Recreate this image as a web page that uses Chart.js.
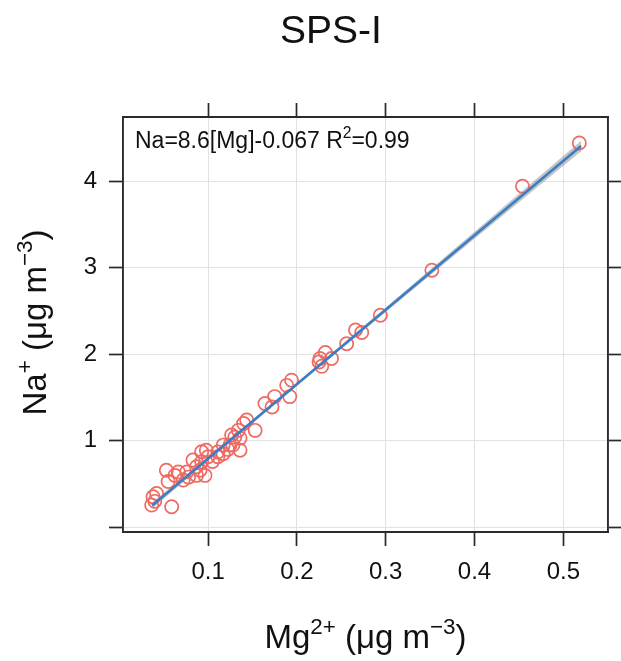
<!DOCTYPE html>
<html>
<head>
<meta charset="utf-8">
<script src="https://cdn.jsdelivr.net/npm/chart.js@4.4.1/dist/chart.umd.min.js"></script>
<style>
html,body{margin:0;padding:0;background:#fff;}
#wrap{width:621px;height:661px;position:relative;}
</style>
</head>
<body>
<div id="wrap"><canvas id="c" width="621" height="661"></canvas></div>
<script>
// ---- data ----
const mgValues = [0.518,0.454,0.352,0.294,0.273,0.266,0.256,0.239,0.232,0.226,0.228,0.225,
  0.194,0.1885,0.192,0.175,0.172,0.164,0.153,0.1435,0.140,0.134,0.1265,0.130,0.136,0.136,
  0.1247,0.117,0.111,0.122,0.117,0.111,0.100,0.098,0.0928,0.091,0.087,0.083,0.087,0.0965,
  0.076,0.072,0.0665,0.0627,0.055,0.053,0.059,0.042,0.038,0.0365,0.040,0.078,0.105,0.128,0.0928];
const naValues = [4.44,3.94,2.97,2.45,2.25,2.28,2.12,1.95,2.02,1.95,1.86,1.91,
  1.70,1.64,1.51,1.51,1.39,1.43,1.12,1.24,1.20,1.12,1.066,1.04,1.03,0.89,
  0.95,0.95,0.87,0.90,0.85,0.815,0.815,0.89,0.757,0.66,0.70,0.777,0.60,0.60,
  0.64,0.546,0.64,0.60,0.53,0.66,0.238,0.39,0.353,0.257,0.30,0.58,0.76,0.95,0.873];
const fitX = [0.037, 0.52];
const fitY = [0.251, 4.405];
const bandX = [0.037, 0.1, 0.2, 0.3, 0.4, 0.52];
const bandLow = [0.216, 0.773, 1.635, 2.488, 3.333, 4.345];
const bandHigh = [0.286, 0.813, 1.671, 2.538, 3.413, 4.465];
const xTicks = [0.1, 0.2, 0.3, 0.4, 0.5];
const yTicks = [0, 1, 2, 3, 4];
const yTickLabels = ['', '1', '2', '3', '4'];
const titleText = 'SPS-I';

const FONT = '"Liberation Sans", Arial, Helvetica, sans-serif';
const AX = '#2a2a2a';
const GRID = '#e2e2e2';

const pts = mgValues.map((x,i)=>({x:x,y:naValues[i]}));
const fitPts = fitX.map((x,i)=>({x:x,y:fitY[i]}));
const lowPts = bandX.map((x,i)=>({x:x,y:bandLow[i]}));
const highPts = bandX.map((x,i)=>({x:x,y:bandHigh[i]}));

function drawSup(ctx, parts, x, y, align, size){
  const supSize = size*0.68;
  let total = 0;
  parts.forEach(p=>{ ctx.font = (p[1]?supSize:size)+'px '+FONT; total += ctx.measureText(p[0]).width; });
  let cx = align==='center' ? x - total/2 : x;
  ctx.textAlign = 'left';
  ctx.textBaseline = 'alphabetic';
  parts.forEach(p=>{
    ctx.font = (p[1]?supSize:size)+'px '+FONT;
    ctx.fillText(p[0], cx, p[1] ? y - size*0.42 : y);
    cx += ctx.measureText(p[0]).width;
  });
}

const textPlugin = {
  id:'texts',
  afterDraw(chart){
    const ctx = chart.ctx;
    const ca = chart.chartArea;
    ctx.save();
    ctx.fillStyle = '#111';
    ctx.font = '39px '+FONT;
    ctx.textAlign = 'center';
    ctx.textBaseline = 'alphabetic';
    ctx.fillText(titleText, 331, 43);
    drawSup(ctx, [['Na=8.6[Mg]-0.067 R',false],['2',true],['=0.99',false]], ca.left+12, ca.top+31, 'left', 23);
    drawSup(ctx, [['Mg',false],['2+',true],[' (\u03bcg m',false],['\u22123',true],[')',false]], (ca.left+ca.right)/2, 648, 'center', 33);
    ctx.translate(46, (ca.top+ca.bottom)/2 - 2);
    ctx.rotate(-Math.PI/2);
    drawSup(ctx, [['Na',false],['+',true],[' (\u03bcg m',false],['\u22123',true],[')',false]], 0, 0, 'center', 33);
    ctx.restore();
  }
};

const gridBase = {color:GRID, lineWidth:1, tickColor:AX, tickWidth:1.7, tickLength:14, drawTicks:true};
const borderBase = {display:true, color:AX, width:1.9};

new Chart(document.getElementById('c'), {
  type:'scatter',
  data:{datasets:[
    {type:'line', data:lowPts, borderWidth:0, pointRadius:0, fill:false, order:3, tension:0},
    {type:'line', data:highPts, borderWidth:0, pointRadius:0, fill:'-1', backgroundColor:'rgba(150,150,150,0.55)', order:3, tension:0},
    {type:'line', data:fitPts, borderColor:'#3b7dc6', borderWidth:2.6, pointRadius:0, fill:false, order:1},
    {data:pts, pointStyle:'circle', pointRadius:6.6, pointBorderWidth:1.7, borderColor:'#ee6a62', backgroundColor:'rgba(0,0,0,0)', pointBackgroundColor:'rgba(0,0,0,0)', order:2}
  ]},
  plugins:[textPlugin],
  options:{
    responsive:false, animation:false, devicePixelRatio:1,
    layout:{padding:0},
    plugins:{legend:{display:false}, tooltip:{enabled:false}, title:{display:false}},
    scales:{
      x:{type:'linear', position:'bottom', min:0.0042, max:0.5503,
        afterBuildTicks:s=>{s.ticks = xTicks.map(v=>({value:v}));},
        afterFit:s=>{s.height = 661-532;},
        ticks:{color:'#111', font:{family:FONT, size:24}, padding:12, maxRotation:0, autoSkip:false,
          callback:v=>String(v)},
        grid:gridBase, border:borderBase},
      x2:{type:'linear', position:'top', min:0.0042, max:0.5503,
        afterBuildTicks:s=>{s.ticks = xTicks.map(v=>({value:v}));},
        afterFit:s=>{s.height = 117;},
        ticks:{display:false},
        grid:Object.assign({}, gridBase, {drawOnChartArea:false}), border:borderBase},
      y:{type:'linear', position:'left', min:-0.054, max:4.74,
        afterBuildTicks:s=>{s.ticks = yTicks.map(v=>({value:v}));},
        afterFit:s=>{s.width = 123;},
        ticks:{color:'#111', font:{family:FONT, size:24}, padding:12, autoSkip:false,
          callback:(v)=>{const i=yTicks.indexOf(v); return i>=0?yTickLabels[i]:'';}},
        grid:gridBase, border:borderBase},
      y2:{type:'linear', position:'right', min:-0.054, max:4.74,
        afterBuildTicks:s=>{s.ticks = yTicks.map(v=>({value:v}));},
        afterFit:s=>{s.width = 13;},
        ticks:{display:false},
        grid:Object.assign({}, gridBase, {drawOnChartArea:false}), border:borderBase}
    }
  }
});
</script>
</body>
</html>
